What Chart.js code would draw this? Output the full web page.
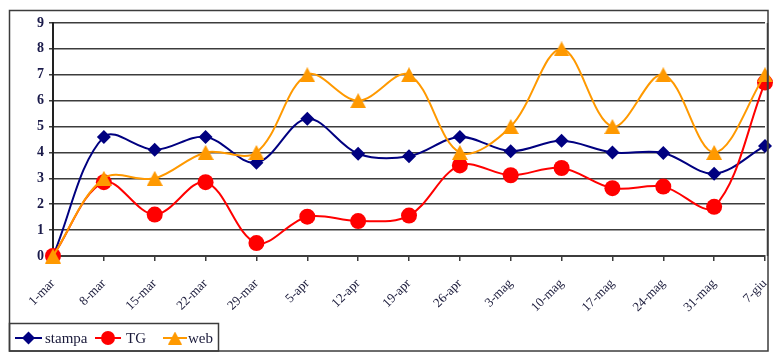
<!DOCTYPE html>
<html>
<head>
<meta charset="utf-8">
<script src="https://cdn.jsdelivr.net/npm/chart.js@4.4.1/dist/chart.umd.min.js"></script>
<style>
  html, body { margin: 0; padding: 0; background: #fff; }
  #wrap { width: 775px; height: 362px; }
</style>
</head>
<body>
<div id="wrap"><canvas id="chart" width="775" height="362"></canvas></div>
<script>
const labels = ['1-mar', '8-mar', '15-mar', '22-mar', '29-mar', '5-apr', '12-apr', '19-apr',
    '26-apr', '3-mag', '10-mag', '17-mag', '24-mag', '31-mag', '7-giu'];
const stampa = [0, 4.6, 4.1, 4.6, 3.6, 5.3, 3.95, 3.85, 4.6, 4.05, 4.45, 4.0, 3.98, 3.18, 4.25];
const tg = [0, 2.85, 1.6, 2.85, 0.5, 1.52, 1.35, 1.56, 3.5, 3.12, 3.4, 2.62, 2.68, 1.9, 6.7];
const web = [0, 3, 3, 4, 4, 7, 6, 7, 4, 5, 8, 5, 7, 4, 7];
const yTicks = [0, 1, 2, 3, 4, 5, 6, 7, 8, 9];

const navy = '#000080';
const red = '#ff0000';
const orange = '#ff9900';
const gridColor = '#3c3c3c';

// Excel style triangle, centred on the value
function makeTriangle(w, h) {
    const c = document.createElement('canvas');
    c.width = w;
    c.height = h;
    const g = c.getContext('2d');
    g.fillStyle = orange;
    g.beginPath();
    g.moveTo(w / 2, 0);
    g.lineTo(w, h);
    g.lineTo(0, h);
    g.closePath();
    g.fill();
    return c;
}
const triangle = makeTriangle(16, 15);
const triangleSmall = makeTriangle(14, 13);

function drawMarker(ctx, style, x, y, r, color) {
    ctx.save();
    ctx.fillStyle = color;
    ctx.beginPath();
    if (style === 'rectRot') {
        ctx.moveTo(x, y - r);
        ctx.lineTo(x + r, y);
        ctx.lineTo(x, y + r);
        ctx.lineTo(x - r, y);
        ctx.closePath();
        ctx.fill();
    } else if (style === 'circle') {
        ctx.arc(x, y, r, 0, Math.PI * 2);
        ctx.fill();
    } else {
        ctx.drawImage(triangleSmall, x - triangleSmall.width / 2, y - triangleSmall.height / 2);
    }
    ctx.restore();
}

// frame round the whole chart and the boxed legend
const framePlugin = {
    id: 'frame',
    afterDraw(chart) {
        const ctx = chart.ctx;
        ctx.save();
        ctx.strokeStyle = gridColor;
        ctx.lineWidth = 1.5;
        ctx.strokeRect(9.5, 10.5, 758.5, 340.5);
        // right side of plot area
        ctx.beginPath();
        ctx.moveTo(767.5, chart.chartArea.top);
        ctx.lineTo(767.5, chart.chartArea.bottom);
        ctx.stroke();

        // legend
        ctx.strokeRect(9.5, 323.5, 209, 27.5);
        const cy = 338;
        const items = [
            { text: 'stampa', color: navy, style: 'rectRot', r: 6.5, x0: 15, x1: 42, tx: 45 },
            { text: 'TG', color: red, style: 'circle', r: 7, x0: 95, x1: 121, tx: 126 },
            { text: 'web', color: orange, style: 'triangle', r: 7, x0: 163, x1: 187, tx: 188 }
        ];
        ctx.font = '15px "Liberation Serif", serif';
        ctx.textBaseline = 'middle';
        items.forEach(it => {
            ctx.strokeStyle = it.color;
            ctx.lineWidth = 2;
            ctx.beginPath();
            ctx.moveTo(it.x0, cy);
            ctx.lineTo(it.x1, cy);
            ctx.stroke();
            drawMarker(ctx, it.style, (it.x0 + it.x1) / 2, cy, it.r, it.color);
            ctx.fillStyle = '#1a1a3a';
            ctx.fillText(it.text, it.tx, cy + 1);
        });
        ctx.restore();
    }
};

new Chart(document.getElementById('chart'), {
    type: 'line',
    data: {
        labels: labels,
        datasets: [
            {
                label: 'stampa',
                data: stampa,
                borderColor: navy,
                backgroundColor: navy,
                pointStyle: 'rectRot',
                pointRadius: 7,
                pointBorderWidth: 0,
                borderWidth: 2,
                tension: 0.35,
                clip: false,
                order: 3
            },
            {
                label: 'TG',
                data: tg,
                borderColor: red,
                backgroundColor: red,
                pointStyle: 'circle',
                pointRadius: 8,
                pointBorderWidth: 0,
                borderWidth: 2,
                tension: 0.35,
                clip: false,
                order: 2
            },
            {
                label: 'web',
                data: web,
                borderColor: orange,
                backgroundColor: orange,
                pointStyle: triangle,
                pointRadius: 8,
                pointBorderWidth: 0,
                borderWidth: 2,
                tension: 0.35,
                clip: false,
                order: 1
            }
        ]
    },
    options: {
        responsive: false,
        animation: false,
        events: [],
        layout: {
            padding: { left: 10, right: 10, top: 23, bottom: 36 }
        },
        plugins: {
            legend: { display: false },
            tooltip: { enabled: false }
        },
        scales: {
            x: {
                offset: false,
                grid: {
                    drawOnChartArea: false,
                    drawTicks: true,
                    tickLength: 5,
                    color: gridColor,
                    lineWidth: 1.5
                },
                border: { color: gridColor, width: 2 },
                ticks: {
                    minRotation: 45,
                    maxRotation: 45,
                    autoSkip: false,
                    padding: 15,
                    color: '#1a1a3a',
                    font: { family: '"Liberation Serif", serif', size: 13 }
                },
                afterFit: scale => {
                    scale.height = 70;
                    scale.paddingLeft = 0;
                    scale.paddingRight = 0;
                }
            },
            y: {
                min: 0,
                max: 9,
                afterBuildTicks: scale => {
                    scale.ticks = yTicks.map(v => ({ value: v }));
                },
                grid: {
                    color: gridColor,
                    lineWidth: 1.5,
                    tickLength: 4
                },
                border: { color: '#222', width: 2 },
                ticks: {
                    padding: 5,
                    color: '#1a1a4a',
                    font: { family: '"Liberation Serif", serif', size: 14, weight: 'bold' }
                },
                afterFit: scale => { scale.width = 43; }
            }
        }
    },
    plugins: [framePlugin]
});
</script>
</body>
</html>
